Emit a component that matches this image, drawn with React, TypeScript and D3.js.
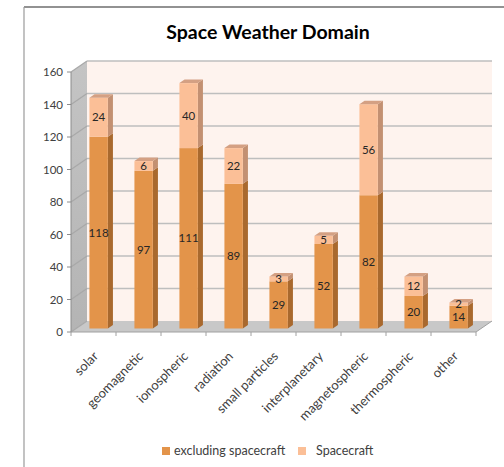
import React from "react";
import * as d3 from "d3";

const categories = ["solar", "geomagnetic", "ionospheric", "radiation", "small particles", "interplanetary", "magnetospheric", "thermospheric", "other"];
const excluding = [118, 97, 111, 89, 29, 52, 82, 20, 14];
const spacecraft = [24, 6, 40, 22, 3, 5, 56, 12, 2];
const yTicks = [0, 20, 40, 60, 80, 100, 120, 140, 160];
const seriesNames = ["excluding spacecraft", "Spacecraft"];

const FONT = "Lato, 'Open Sans', sans-serif";

export default function App() {
  const W = 504, H = 467;
  const x = d3.scaleBand<string>().domain(categories).range([71, 476]).padding(0);
  const y = d3.scaleLinear().domain([0, 160]).range([332, 72]);
  const DX = 16, DY = -11; // full depth offset
  const fFront = 0.32, fBack = 0.64;
  const bw = 18.4;

  const pts = (a: number[][]) => a.map((p) => p.join(",")).join(" ");

  const colors = {
    exFront: "#E3944A",
    exSide: "#A9692E",
    scFront: "#FBBF97",
    scSide: "#C39072",
    scTop: "#D4A083",
  };

  const x0 = 71, x1 = 476;
  const back = (v: number) => y(v) + DY;

  const bars: React.ReactNode[] = [];
  categories.forEach((c, i) => {
    const cx = (x(c) as number) + x.bandwidth() / 2;
    const fx = cx - bw / 2 + DX * fFront;
    const fdy = DY * fFront;
    const ddx = DX * (fBack - fFront);
    const ddy = DY * (fBack - fFront);
    const segs = [
      { v0: 0, v1: excluding[i], front: colors.exFront, side: colors.exSide, label: excluding[i] },
      { v0: excluding[i], v1: excluding[i] + spacecraft[i], front: colors.scFront, side: colors.scSide, label: spacecraft[i] },
    ];
    segs.forEach((s, k) => {
      const yt = y(s.v1) + fdy;
      const yb = y(s.v0) + fdy;
      bars.push(
        <g key={`${c}-${k}`}>
          <polygon
            points={pts([[fx + bw, yb], [fx + bw + ddx, yb + ddy], [fx + bw + ddx, yt + ddy], [fx + bw, yt]])}
            fill={s.side}
          />
          <rect x={fx} y={yt} width={bw} height={yb - yt} fill={s.front} />
        </g>
      );
    });
    const top = excluding[i] + spacecraft[i];
    const yt = y(top) + fdy;
    bars.push(
      <polygon
        key={`${c}-top`}
        points={pts([[fx, yt], [fx + ddx, yt + ddy], [fx + bw + ddx, yt + ddy], [fx + bw, yt]])}
        fill={colors.scTop}
      />
    );
    segs.forEach((s, k) => {
      const ym = y((s.v0 + s.v1) / 2) + fdy;
      bars.push(
        <text
          key={`${c}-lab-${k}`}
          x={fx + bw / 2}
          y={ym}
          dy="0.35em"
          textAnchor="middle"
          fontSize={11.5}
          fill="#262626"
          fontFamily={FONT}
        >
          {s.label}
        </text>
      );
    });
  });

  return (
    <svg width={W} height={H} style={{ position: "absolute", left: 0, top: 0, background: "#fff" }}>
      <defs>
        <linearGradient id="sideWall" x1="0" y1="0" x2="0" y2="1">
          <stop offset="0" stopColor="#C4C4C4" />
          <stop offset="1" stopColor="#B4B4B4" />
        </linearGradient>
      </defs>
      {/* outer frame */}
      <line x1={24} y1={7} x2={504} y2={7} stroke="#6E6E6E" strokeWidth={1.5} />
      <line x1={24} y1={7} x2={24} y2={467} stroke="#9A9A9A" strokeWidth={1.2} />

      <text x={268} y={39} textAnchor="middle" fontSize={19.5} fontWeight="bold" fontFamily={FONT} fill="#000">
        Space Weather Domain
      </text>

      {/* back wall */}
      <rect x={x0 + DX} y={back(160)} width={x1 + DX - (x0 + DX)} height={back(0) - back(160)} fill="#FEF3EE" />
      {/* side wall */}
      <polygon points={pts([[x0, y(160)], [x0 + DX, back(160)], [x0 + DX, back(0)], [x0, y(0)]])} fill="url(#sideWall)" />
      {/* floor */}
      <polygon points={pts([[x0, y(0)], [x0 + DX, back(0)], [x1 + DX, back(0)], [x1, y(0)]])} fill="#C8C8C8" />

      {/* gridlines */}
      {yTicks.map((t) => (
        <g key={`g${t}`}>
          {t > 0 && (
            <line x1={x0 + DX} y1={back(t)} x2={x1 + DX} y2={back(t)} stroke="#BEBEBE" strokeWidth={1.3} />
          )}
          <line x1={x0} y1={y(t)} x2={x0 + DX} y2={back(t)} stroke="#A8A8A8" strokeWidth={1.2} />
        </g>
      ))}

      {/* axes */}
      <line x1={x0} y1={y(160)} x2={x0} y2={y(0)} stroke="#8C8C8C" strokeWidth={1} />
      <line x1={x0} y1={y(0)} x2={x1} y2={y(0)} stroke="#A0A0A0" strokeWidth={1} />
      <line x1={x1} y1={y(0)} x2={x1 + DX} y2={back(0)} stroke="#A0A0A0" strokeWidth={1} />
      {yTicks.map((t) => (
        <g key={`t${t}`}>
          <line x1={x0 - 4} y1={y(t)} x2={x0} y2={y(t)} stroke="#8C8C8C" strokeWidth={1} />
          <text x={x0 - 8} y={y(t)} dy="0.35em" textAnchor="end" fontSize={11.5} fill="#404040" fontFamily={FONT}>
            {t}
          </text>
        </g>
      ))}
      {categories.map((c, i) => (
        <line key={`ct${i}`} x1={x(c) as number} y1={y(0)} x2={x(c) as number} y2={y(0) + 4} stroke="#A0A0A0" />
      ))}
      <line x1={x1} y1={y(0)} x2={x1} y2={y(0) + 4} stroke="#A0A0A0" />

      {bars}

      {categories.map((c) => {
        const cx = (x(c) as number) + x.bandwidth() / 2;
        return (
          <text
            key={`cl${c}`}
            transform={`translate(${cx + 5.5},${357}) rotate(-45)`}
            textAnchor="end"
            fontSize={13}
            fill="#404040"
            fontFamily={FONT}
          >
            {c}
          </text>
        );
      })}

      {/* legend */}
      <rect x={162} y={447} width={8} height={8} fill={colors.exFront} />
      <text x={174} y={451} dy="0.35em" fontSize={12.5} fill="#404040" fontFamily={FONT}>
        {seriesNames[0]}
      </text>
      <rect x={298} y={447} width={8} height={8} fill={colors.scFront} />
      <text x={316} y={451} dy="0.35em" fontSize={12.5} fill="#404040" fontFamily={FONT}>
        {seriesNames[1]}
      </text>
    </svg>
  );
}
